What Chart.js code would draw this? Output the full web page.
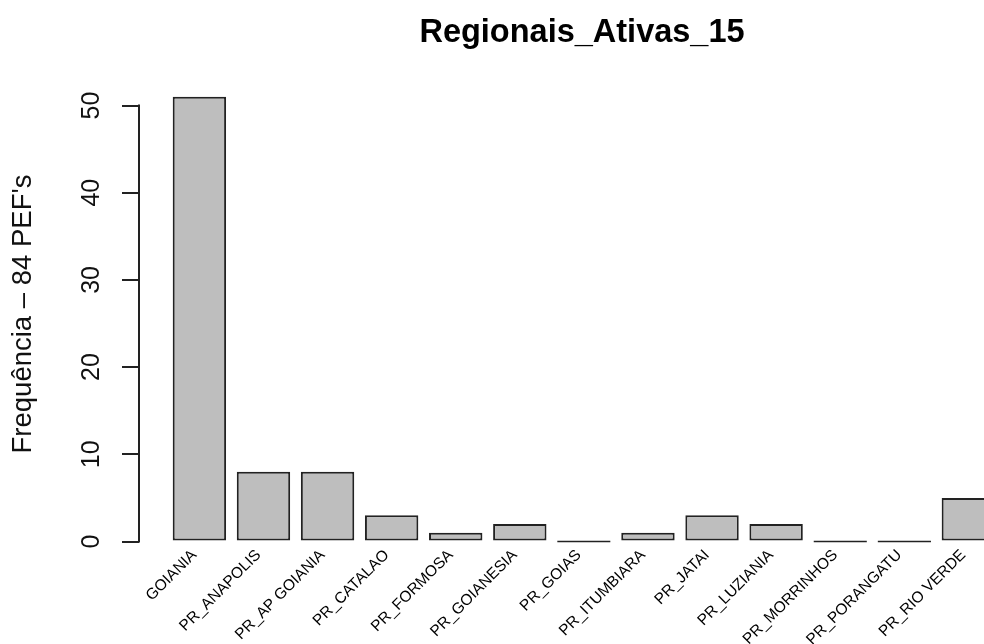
<!DOCTYPE html>
<html>
<head>
<meta charset="utf-8">
<script src="https://cdn.jsdelivr.net/npm/chart.js@4/dist/chart.umd.min.js"></script>
<style>
  html, body { margin: 0; padding: 0; background: #fff; overflow: hidden; }
  #wrap { width: 1025px; height: 644px; }
</style>
</head>
<body>
<div id="wrap"><canvas id="c" width="1025" height="644"></canvas></div>
<script>
// Active regional offices and how many PEFs each one holds
const regions = ["GOIANIA", "PR_ANAPOLIS", "PR_AP GOIANIA", "PR_CATALAO", "PR_FORMOSA",
                 "PR_GOIANESIA", "PR_GOIAS", "PR_ITUMBIARA", "PR_JATAI", "PR_LUZIANIA",
                 "PR_MORRINHOS", "PR_PORANGATU", "PR_RIO VERDE"];
const counts = [51, 8, 8, 3, 1, 2, 0, 1, 3, 2, 0, 0, 5];
const yTicks = [0, 10, 20, 30, 40, 50];
const chartTitle = "Regionais_Ativas_15";
const yAxisTitle = "Frequência – 84 PEF's";

const FONT = "'Liberation Sans', Arial, Helvetica, sans-serif";

// The y axis line only covers the labelled tick range
const axisLine = {
  id: 'axisLine',
  afterDraw(chart) {
    const y = chart.scales.y, ctx = chart.ctx;
    const x = chart.chartArea.left;
    ctx.save();
    ctx.strokeStyle = '#222';
    ctx.lineWidth = 2;
    ctx.beginPath();
    ctx.moveTo(x, y.getPixelForValue(yTicks[0]) + 1);
    ctx.lineTo(x, y.getPixelForValue(yTicks[yTicks.length - 1]) - 1);
    ctx.stroke();
    ctx.restore();
  }
};

new Chart(document.getElementById('c'), {
  type: 'bar',
  data: {
    datasets: [{
      data: counts.map((v, i) => ({ x: i, y: v })),
      backgroundColor: '#bebebe',
      borderColor: '#222',
      borderWidth: 2,
      borderSkipped: false,
      minBarLength: 2,
      categoryPercentage: 1,
      barPercentage: 1 / 1.2
    }]
  },
  options: {
    responsive: false,
    animation: false,
    devicePixelRatio: 1,
    layout: { padding: 0 },
    plugins: {
      legend: { display: false },
      tooltip: { enabled: false },
      title: {
        display: true,
        text: chartTitle,
        fullSize: false,
        color: '#000',
        font: { family: FONT, size: 32.5, weight: 'bold', lineHeight: 1.2 },
        padding: { top: 14, bottom: 26 }
      }
    },
    scales: {
      x: {
        type: 'linear',
        offset: false,
        min: -0.9426,
        max: 12.884,
        grid: { display: false, offset: false },
        border: { display: false },
        afterBuildTicks: s => { s.ticks = regions.map((_, i) => ({ value: i })); },
        afterFit: s => { s.height = 95; s.paddingLeft = 0; s.paddingRight = 0; },
        ticks: {
          autoSkip: false,
          minRotation: 45,
          maxRotation: 45,
          padding: -11,
          labelOffset: -5,
          color: '#000',
          font: { family: FONT, size: 15.5 },
          callback: v => regions[v]
        }
      },
      y: {
        min: -0.86,
        max: 53.04,
        afterBuildTicks: s => { s.ticks = yTicks.map(v => ({ value: v })); },
        afterFit: s => { s.width = 139; },
        grid: { display: true, drawOnChartArea: false, drawTicks: true, tickLength: 17, color: '#222', lineWidth: 2 },
        border: { display: false },
        ticks: {
          minRotation: 90,
          maxRotation: 90,
          crossAlign: 'center',
          padding: 16,
          color: '#111',
          font: { family: FONT, size: 25 }
        },
        title: {
          display: true,
          text: yAxisTitle,
          color: '#111',
          font: { family: FONT, size: 27.5 },
          padding: { top: 6.5, bottom: 0 }
        }
      }
    }
  },
  plugins: [axisLine]
});
</script>
</body>
</html>
